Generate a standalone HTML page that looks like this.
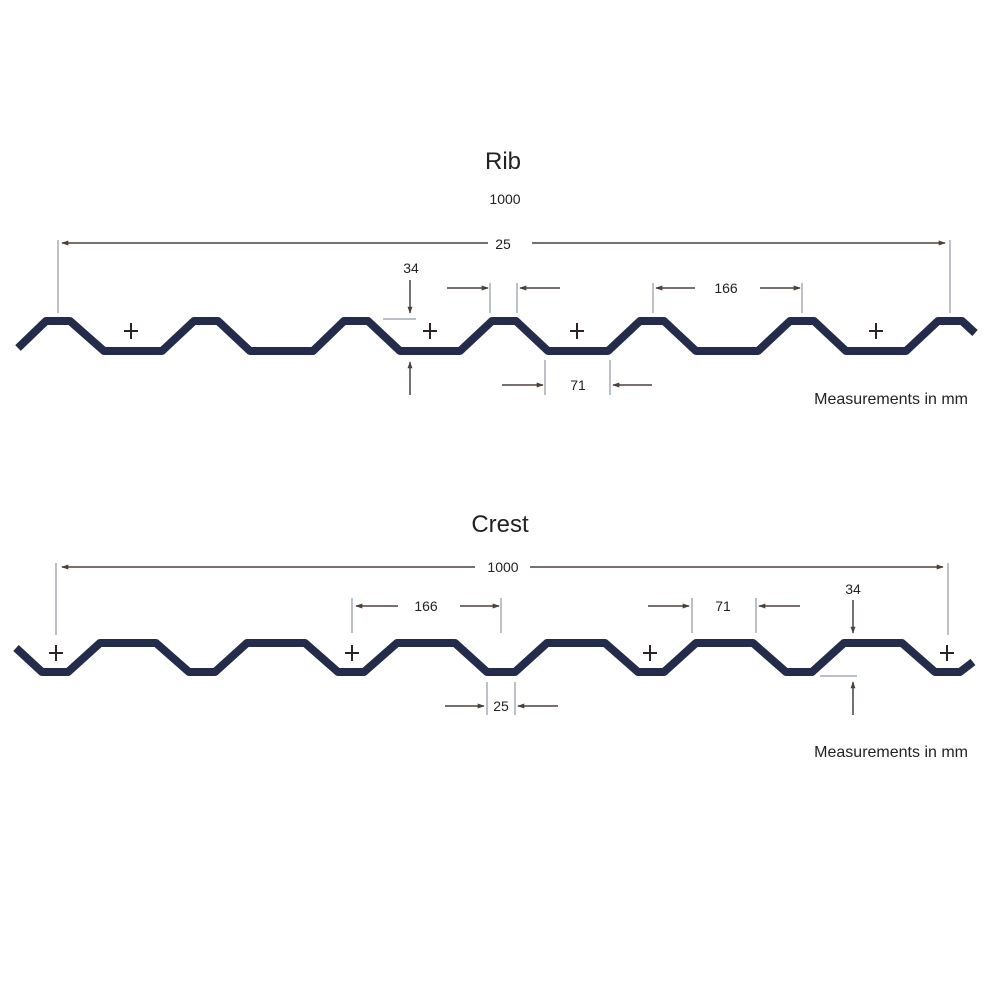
<!DOCTYPE html>
<html><head><meta charset="utf-8"><style>
html,body{margin:0;padding:0;background:#fff}
svg{display:block}
text{font-family:"Liberation Sans",sans-serif;fill:#222}
</style></head><body>
<svg width="990" height="988" viewBox="0 0 990 988" xmlns="http://www.w3.org/2000/svg">
<defs>
<marker id="a" viewBox="0 0 10 10" refX="9" refY="5" markerWidth="7" markerHeight="7" orient="auto-start-reverse" markerUnits="userSpaceOnUse"><path d="M0,1.5 L10,5 L0,8.5 z" fill="#4a403c"/></marker>
</defs>
<rect width="990" height="988" fill="#fff"/>
<g fill="none" stroke="#252b4a" stroke-width="8" stroke-linejoin="round">
<polyline points="18,348 46,321 70,321 104,351 162,351 194,321 218,321 250,351 313,351 344,321 368,321 400,351 460,351 492,321 516,321 548,351 608,351 640,321 664,321 696,351 758,351 790,321 814,321 846,351 906,351 938,321 962,321 975,333"/>
<polyline points="16,648 42,672 68,672 100,643 156,643 189,672 215,672 247,643 305,643 338,672 364,672 397,643 455,643 487,672 515,672 547,643 605,643 638,672 664,672 696,643 753,643 786,672 812,672 844,643 902,643 935,672 960,672 973,662"/>
</g>
<!-- extension lines -->
<g stroke="#a4acb4" stroke-width="1.5">
<line x1="58" y1="240" x2="58" y2="313"/><line x1="950" y1="240" x2="950" y2="313"/>
<line x1="490" y1="283" x2="490" y2="313"/><line x1="517" y1="283" x2="517" y2="313"/>
<line x1="653" y1="283" x2="653" y2="313"/><line x1="802" y1="283" x2="802" y2="313"/>
<line x1="545" y1="360" x2="545" y2="395"/><line x1="610" y1="360" x2="610" y2="395"/>
<line x1="383" y1="319" x2="416" y2="319"/>
<line x1="56" y1="563" x2="56" y2="635"/><line x1="948" y1="563" x2="948" y2="635"/>
<line x1="352" y1="598" x2="352" y2="633"/><line x1="501" y1="598" x2="501" y2="633"/>
<line x1="692" y1="598" x2="692" y2="633"/><line x1="756" y1="598" x2="756" y2="633"/>
<line x1="487" y1="682" x2="487" y2="715"/><line x1="515" y1="682" x2="515" y2="715"/>
<line x1="820" y1="676" x2="857" y2="676"/>
</g>
<!-- arrows -->
<g stroke="#4a403c" stroke-width="1.5" marker-end="url(#a)">
<line x1="488" y1="243" x2="62" y2="243"/><line x1="532" y1="243" x2="945" y2="243"/>
<line x1="410" y1="280" x2="410" y2="313"/><line x1="410" y1="395" x2="410" y2="362"/>
<line x1="447" y1="288" x2="488" y2="288"/><line x1="560" y1="288" x2="520" y2="288"/>
<line x1="695" y1="288" x2="656" y2="288"/><line x1="760" y1="288" x2="800" y2="288"/>
<line x1="502" y1="385" x2="543" y2="385"/><line x1="652" y1="385" x2="613" y2="385"/>
<line x1="475" y1="567" x2="62" y2="567"/><line x1="530" y1="567" x2="943" y2="567"/>
<line x1="398" y1="606" x2="356" y2="606"/><line x1="460" y1="606" x2="499" y2="606"/>
<line x1="648" y1="606" x2="689" y2="606"/><line x1="800" y1="606" x2="759" y2="606"/>
<line x1="853" y1="600" x2="853" y2="633"/><line x1="853" y1="715" x2="853" y2="682"/>
<line x1="445" y1="706" x2="484" y2="706"/><line x1="558" y1="706" x2="518" y2="706"/>
</g>
<!-- plus marks -->
<g stroke="#2a2424" stroke-width="2">
<path d="M131,323v16M124,331h14M430,323v16M423,331h14M577,323v16M570,331h14M876,323v16M869,331h14"/>
<path d="M56,645v16M49,653h14M352,645v16M345,653h14M650,645v16M643,653h14M947,645v16M940,653h14"/>
</g>
<g text-anchor="middle">
<text x="503" y="169" font-size="24">Rib</text>
<text x="505" y="204" font-size="14">1000</text>
<text x="503" y="249" font-size="14">25</text>
<text x="411" y="273" font-size="14">34</text>
<text x="726" y="293" font-size="14">166</text>
<text x="578" y="390" font-size="14">71</text>
<text x="500" y="532" font-size="24">Crest</text>
<text x="503" y="572" font-size="14">1000</text>
<text x="426" y="611" font-size="14">166</text>
<text x="723" y="611" font-size="14">71</text>
<text x="853" y="594" font-size="14">34</text>
<text x="501" y="711" font-size="14">25</text>
</g>
<g text-anchor="end" font-size="16">
<text x="968" y="404">Measurements in mm</text>
<text x="968" y="757">Measurements in mm</text>
</g>
</svg>
</body></html>
